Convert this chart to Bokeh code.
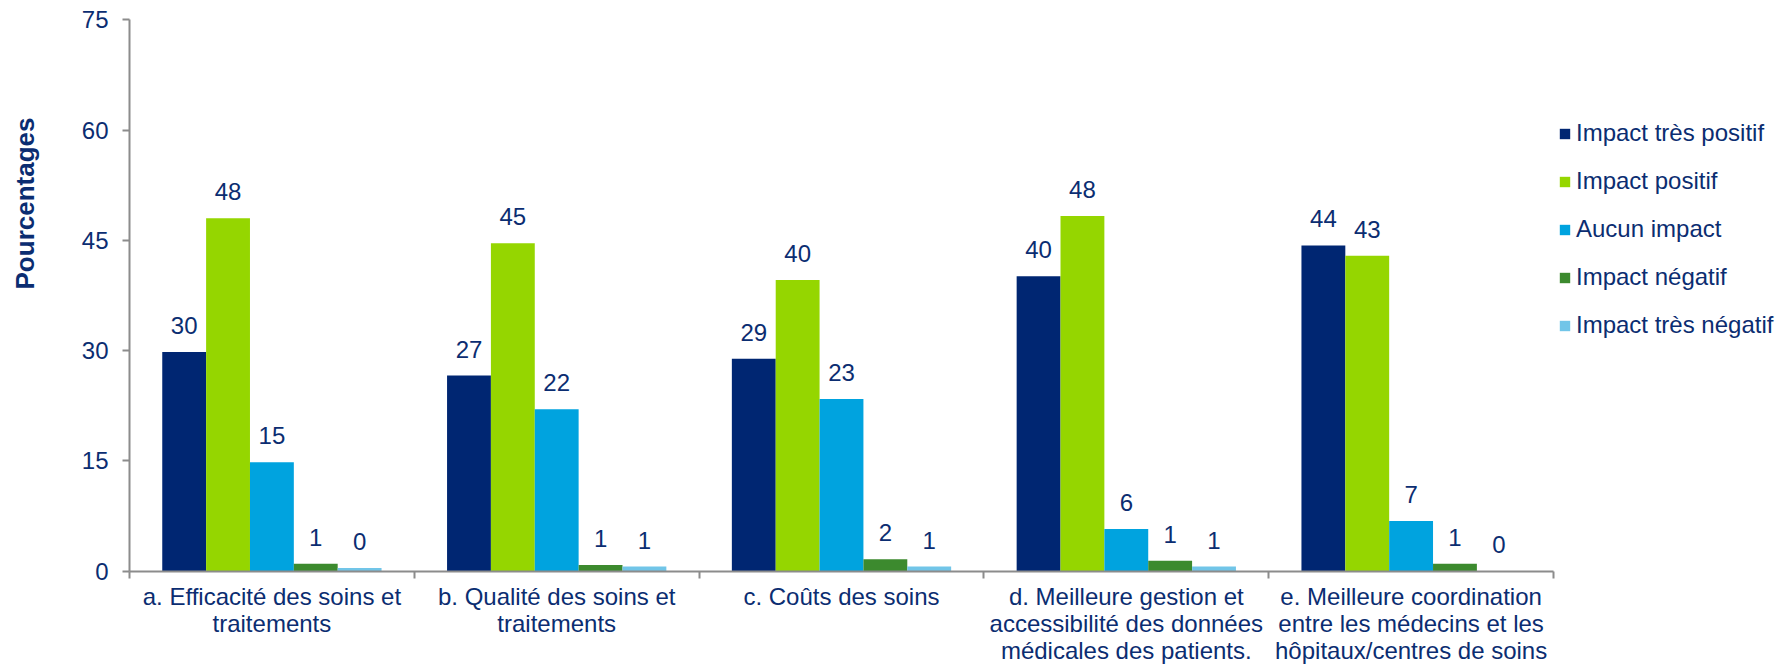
import math
from bokeh.plotting import figure
from bokeh.models import (ColumnDataSource, FixedTicker, Legend, LegendItem, Label,
                          Range1d, LinearAxis)
from bokeh.transform import dodge
from bokeh.core.properties import value
from bokeh.embed import file_html
from bokeh.resources import INLINE

categories = [
    "a. Efficacité des soins et\ntraitements",
    "b. Qualité des soins et\ntraitements",
    "c. Coûts des soins",
    "d. Meilleure gestion et\naccessibilité des données\nmédicales des patients.",
    "e. Meilleure coordination\nentre les médecins et les\nhôpitaux/centres de soins",
]
series_names = ["Impact très positif", "Impact positif", "Aucun impact",
                "Impact négatif", "Impact très négatif"]
very_positive = [29.8, 26.6, 28.9, 40.1, 44.3]
positive = [48.0, 44.6, 39.6, 48.3, 42.9]
no_impact = [14.8, 22.0, 23.4, 5.7, 6.8]
negative = [1.0, 0.8, 1.6, 1.4, 1.0]
very_negative = [0.4, 0.6, 0.6, 0.6, 0.0]
y_ticks = [0, 15, 30, 45, 60, 75]
y_max = 75

colors = ["#002672", "#95D600", "#00A3DF", "#3C8A2E", "#71C5E8"]
FONT = "Liberation Sans"
TXT = "#0B2D71"
AXIS = "#8C8C8C"

n = len(categories)
W, H = 1789, 665
# layout constants (pixels): value axis position and plot box
CAT_PX = 1424 / n
AXIS_X = 129
TOP_Y, ZERO_Y = 19.4, 570.5
VAL_PX = (ZERO_Y - TOP_Y) / y_max
x_start = -AXIS_X / CAT_PX
x_end = (W - AXIS_X) / CAT_PX
y_start = -(H - ZERO_Y) / VAL_PX
y_end = y_max + TOP_Y / VAL_PX

p = figure(width=W, height=H, x_range=Range1d(x_start, x_end),
           y_range=Range1d(y_start, y_end),
           output_backend="svg", toolbar_location=None,
           x_axis_location=None, y_axis_location=None,
           min_border_left=0, min_border_right=0, min_border_top=0,
           min_border_bottom=0)
p.outline_line_color = None
p.grid.visible = False
p.background_fill_color = "white"

xpos = [i + 0.5 for i in range(n)]
bar_w = 0.154
offsets = [-2 * bar_w, -bar_w, 0.0, bar_w, 2 * bar_w]
all_series = [very_positive, positive, no_impact, negative, very_negative]

items = []
for name, vals, col, off in zip(series_names, all_series, colors, offsets):
    src = ColumnDataSource(dict(x=xpos, top=vals,
                                label=[str(int(round(v))) for v in vals]))
    r = p.vbar(x=dodge("x", off), top="top", bottom=0, width=bar_w, source=src,
               fill_color=col, line_color=None)
    p.text(x=dodge("x", off), y="top", text="label", source=src,
           text_align="center", text_baseline="bottom", y_offset=-18,
           text_font=value(FONT), text_font_size="24px", text_color=TXT)
    items.append(LegendItem(label=name, renderers=[r]))

xa = LinearAxis(fixed_location=0, bounds=(0, n),
                ticker=FixedTicker(ticks=xpos, minor_ticks=list(range(n + 1))),
                major_label_overrides={x: c for x, c in zip(xpos, categories)},
                major_tick_line_color=None, major_tick_in=0, major_tick_out=7,
                minor_tick_in=0, minor_tick_out=7, minor_tick_line_color=AXIS,
                minor_tick_line_width=2, axis_line_color=AXIS, axis_line_width=2,
                major_label_text_font=FONT, major_label_text_font_size="24px",
                major_label_text_color=TXT, major_label_text_line_height=1.0,
                major_label_standoff=5)
p.add_layout(xa, "below")

ya = LinearAxis(fixed_location=0, bounds=(0, y_max), ticker=FixedTicker(ticks=y_ticks),
                major_tick_in=0, major_tick_out=7, major_tick_line_color=AXIS,
                major_tick_line_width=2, minor_tick_line_color=None,
                axis_line_color=AXIS, axis_line_width=2,
                major_label_text_font=FONT, major_label_text_font_size="24px",
                major_label_text_color=TXT, major_label_standoff=14)
p.add_layout(ya, "left")

legend = Legend(items=items, location=(1558, 326), glyph_width=13, glyph_height=13,
                label_height=28, spacing=20, padding=0, margin=0,
                border_line_color=None, background_fill_alpha=0,
                label_text_font=FONT, label_text_font_size="24px",
                label_text_color=TXT, label_standoff=5)
p.add_layout(legend)

# y-axis title, left of the value axis
p.add_layout(Label(x=24, y=462, x_units="screen", y_units="screen",
                   text="Pourcentages", angle=math.pi / 2,
                   text_align="center", text_baseline="middle",
                   text_font=FONT, text_font_size="26px",
                   text_font_style="bold", text_color=TXT))

open("out.html", "w").write(file_html(p, INLINE))
